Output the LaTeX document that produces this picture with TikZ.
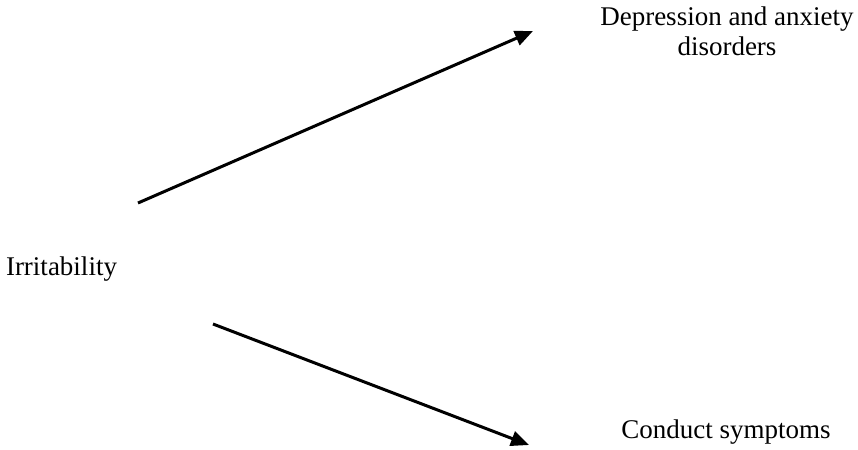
\documentclass[tikz,border=0pt]{standalone}
\usepackage{fontspec}
\setmainfont{Liberation Serif}
\usetikzlibrary{arrows.meta}
\tikzset{
    label/.style={inner sep=0pt, font=\fontsize{13.5}{15}\selectfont, align=center},
    path/.style={line width=1.5pt, -{Triangle[length=9pt, width=7.5pt]}}
}

\begin{document}
\begin{tikzpicture}[x=0.5pt, y=-0.5pt]
                    \useasboundingbox (0,0) rectangle (858,450);
                    \node[label, anchor=base] (irr) at (61.5,275) {Irritability};
                    \node[label, anchor=base] (dep) at (727,55) {Depression and anxiety\\disorders};
                    \node[label, anchor=base] (con) at (726,438) {Conduct symptoms};
                    
                    \coordinate (irrup) at (138,203);
                    \coordinate (irrdown) at (213,324);
                    \coordinate (depin) at (533,31);
                    \coordinate (conin) at (529,445);
                    
                    \draw[path] (irrup) -- (depin);
                    \draw[path] (irrdown) -- (conin);
                \end{tikzpicture}
\end{document}
